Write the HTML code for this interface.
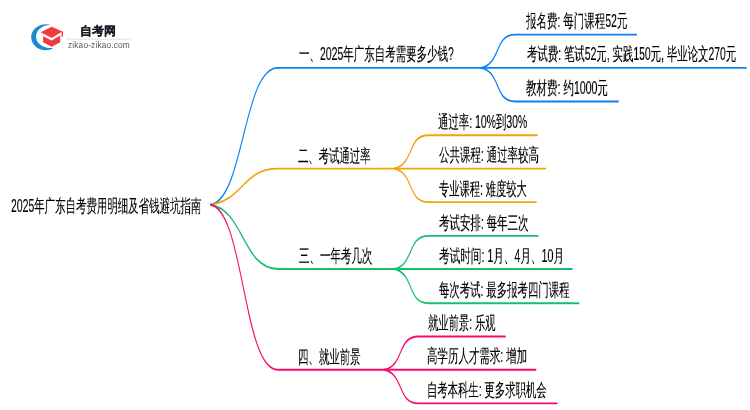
<!DOCTYPE html>
<html><head><meta charset="utf-8"><style>
html,body{margin:0;padding:0;background:#fff;width:750px;height:410px;overflow:hidden}
body{position:relative;font-family:"Liberation Sans",sans-serif}
.t{position:absolute;font-size:18px;line-height:18px;white-space:nowrap;color:#000;-webkit-text-stroke:0.15px #000;transform-origin:0 0;will-change:transform}
svg.lines{position:absolute;left:0;top:0}
svg.lines path{fill:none;stroke-width:1.9;stroke-linecap:round}
.logot{position:absolute;left:80px;top:23.5px;font-size:12px;line-height:14px;font-weight:bold;color:#161a22;-webkit-text-stroke:0.2px #161a22;white-space:nowrap;will-change:transform}
.logou{position:absolute;left:68px;top:40.6px;font-size:8.3px;line-height:9px;color:#555;white-space:nowrap;letter-spacing:0.16px;will-change:transform}
</style></head><body>
<svg class="lines" width="750" height="410" viewBox="0 0 1428.571 410" preserveAspectRatio="none">
<path d="M400.95 204.80 C465.33 199.30 462.48 67.90 529.33 67.90 H916.76" stroke="#0a80f5"/>
<path d="M916.76 67.90 C955.62 63.00 940.38 34.60 981.52 34.60 H1212.38" stroke="#0a80f5"/>
<path d="M916.76 67.9 H1421.33" stroke="#0a80f5"/>
<path d="M916.76 67.90 C955.62 72.80 940.38 101.50 981.52 101.50 H1177.71" stroke="#0a80f5"/>
<path d="M400.95 204.80 C465.33 199.30 462.48 168.60 529.33 168.60 H751.24" stroke="#f2a20a"/>
<path d="M751.24 168.60 C790.10 163.70 774.86 135.20 816.00 135.20 H1023.43" stroke="#f2a20a"/>
<path d="M751.24 168.6 H1039.62" stroke="#f2a20a"/>
<path d="M751.24 168.60 C790.10 173.50 774.86 202.10 816.00 202.10 H1021.33" stroke="#f2a20a"/>
<path d="M400.95 204.80 C465.33 210.30 462.48 269.00 529.33 269.00 H751.24" stroke="#14c070"/>
<path d="M751.24 269.00 C790.10 264.10 774.86 235.90 816.00 235.90 H1024.76" stroke="#14c070"/>
<path d="M751.24 269.0 H1089.90" stroke="#14c070"/>
<path d="M751.24 269.00 C790.10 273.90 774.86 303.30 816.00 303.30 H1102.48" stroke="#14c070"/>
<path d="M400.95 204.80 C465.33 210.30 462.48 369.80 529.33 369.80 H732.19" stroke="#fa0a6e"/>
<path d="M732.19 369.80 C771.05 364.90 755.81 336.50 796.95 336.50 H962.67" stroke="#fa0a6e"/>
<path d="M732.19 369.8 H1020.76" stroke="#fa0a6e"/>
<path d="M732.19 369.80 C771.05 374.70 755.81 403.40 796.95 403.40 H1061.14" stroke="#fa0a6e"/>
</svg>
<div class="t" style="left:299.01px;top:45.45px;transform:scaleX(0.5821)">一、2025年广东自考需要多少钱?</div>
<div class="t" style="left:526.20px;top:12.00px;transform:scaleX(0.5826)">报名费: 每门课程52元</div>
<div class="t" style="left:527.22px;top:45.30px;transform:scaleX(0.5778)">考试费: 笔试52元, 实践150元, 毕业论文270元</div>
<div class="t" style="left:526.14px;top:79.20px;transform:scaleX(0.5849)">教材费: 约1000元</div>
<div class="t" style="left:298.28px;top:146.50px;transform:scaleX(0.5757)">二、考试通过率</div>
<div class="t" style="left:438.14px;top:112.50px;transform:scaleX(0.5791)">通过率: 10%到30%</div>
<div class="t" style="left:438.86px;top:146.00px;transform:scaleX(0.5811)">公共课程: 通过率较高</div>
<div class="t" style="left:438.72px;top:179.60px;transform:scaleX(0.5703)">专业课程: 难度较大</div>
<div class="t" style="left:299.04px;top:247.20px;transform:scaleX(0.5819)">三、一年考几次</div>
<div class="t" style="left:438.86px;top:213.70px;transform:scaleX(0.5812)">考试安排: 每年三次</div>
<div class="t" style="left:438.85px;top:246.70px;transform:scaleX(0.5895)">考试时间: 1月、4月、10月</div>
<div class="t" style="left:438.72px;top:280.50px;transform:scaleX(0.5774)">每次考试: 最多报考四门课程</div>
<div class="t" style="left:298.02px;top:347.95px;transform:scaleX(0.5786)">四、就业前景</div>
<div class="t" style="left:427.69px;top:314.20px;transform:scaleX(0.5720)">就业前景: 乐观</div>
<div class="t" style="left:427.11px;top:347.40px;transform:scaleX(0.5821)">高学历人才需求: 增加</div>
<div class="t" style="left:427.49px;top:381.00px;transform:scaleX(0.5754)">自考本科生: 更多求职机会</div>
<div class="t" style="left:11.26px;top:196.70px;transform:scaleX(0.5804)">2025年广东自考费用明细及省钱避坑指南</div>
<svg width="140" height="60" viewBox="0 0 140 60" style="position:absolute;left:0;top:0">
  <defs><clipPath id="cc"><rect x="20" y="15" width="32.6" height="45"/></clipPath></defs>
  <path clip-path="url(#cc)" fill-rule="evenodd" fill="#1a8ad4" d="M31.2 37.2 A14.6 13 0 1 0 60.4 37.2 A14.6 13 0 1 0 31.2 37.2 Z M36 36.5 A14 11.4 0 1 0 64 36.5 A14 11.4 0 1 0 36 36.5 Z"/>
  <path d="M40.7 32.2 L51.7 26.8 L62.4 31.6 L51.7 37.9 Z" fill="#f03c3c"/>
  <path d="M43.1 36.2 L51.7 40.6 L60.2 35.6 L60.2 42.3 L51.7 46.7 L43.1 42.3 Z" fill="#f03c3c"/>
  <rect x="61.6" y="31.4" width="1.4" height="5.4" fill="#f03c3c"/>
  <line x1="65.9" y1="39.2" x2="130.6" y2="39.2" stroke="#dcdcdc" stroke-width="0.8"/>
</svg>
<div class="logot">自考网</div>
<div class="logou">zikao-zikao.com</div>
</body></html>
